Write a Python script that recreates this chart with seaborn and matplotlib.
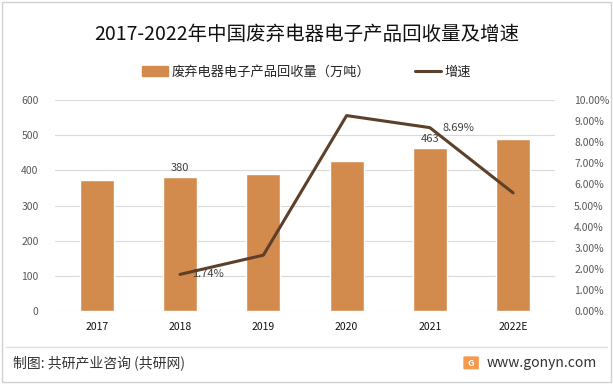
import pandas as pd
import matplotlib.pyplot as plt
import matplotlib.patches as mpatches
from matplotlib.lines import Line2D
import seaborn as sns

# data
years = ["2017", "2018", "2019", "2020", "2021", "2022E"]
volume = [373, 380, 390, 427, 463, 490]          # 万吨
growth_years = ["2018", "2019", "2020", "2021", "2022E"]
growth = [1.74, 2.65, 9.26, 8.69, 5.60]          # %

volume_labels = {"2018": "380", "2021": "463"}
growth_labels = {"2018": "1.74%", "2021": "8.69%"}

BAR = "#D38B4D"
LINE = "#5C4029"
GRID = "#D9D9D9"
TXT = "#595959"

sns.set_theme(style="white")
plt.rcParams["font.family"] = ["Noto Sans CJK SC", "DejaVu Sans"]

df = pd.DataFrame({"year": years, "volume": volume})

fig = plt.figure(figsize=(6.13, 3.86), dpi=100)
ax = fig.add_axes([0.09, 0.194, 0.815, 0.547])

sns.barplot(data=df, x="year", y="volume", color=BAR, width=0.41,
            saturation=1, ax=ax, zorder=2)
ax.set_xlim(-0.5, 5.5)
ax.set_ylim(0, 600)
ax.set_yticks(range(0, 601, 100))
ax.yaxis.grid(True, color=GRID, linewidth=0.8, zorder=0)
ax.set_xlabel("")
ax.set_ylabel("")
for s in ax.spines.values():
    s.set_visible(False)
ax.tick_params(axis="both", length=0, labelsize=7.5)
ax.tick_params(axis="y", labelcolor=TXT, pad=12)
ax.tick_params(axis="x", labelcolor="#111111", pad=8)

for yr, lab in volume_labels.items():
    i = years.index(yr)
    ax.text(i, volume[i] + 12, lab, ha="center", va="bottom",
            fontsize=8, color="#404040", zorder=1)

ax2 = ax.twinx()
gx = [years.index(y) for y in growth_years]
ax2.plot(gx, growth, color=LINE, linewidth=2.2, zorder=3)
ax2.set_ylim(0, 10)
ax2.set_yticks(range(0, 11))
ax2.set_yticklabels([f"{v:.2f}%" for v in range(0, 11)])
ax2.tick_params(axis="y", length=0, labelsize=7.5, labelcolor=TXT, pad=14)
for s in ax2.spines.values():
    s.set_visible(False)
ax2.grid(False)

for yr, lab in growth_labels.items():
    k = growth_years.index(yr)
    ax2.text(gx[k] + 0.15, growth[k], lab, ha="left", va="center",
             fontsize=8, color="#404040", zorder=4)

# title and legend
fig.text(0.5, 0.912, "2017-2022年中国废弃电器电子产品回收量及增速",
         ha="center", va="center", fontsize=14, color="#111111")
handles = [mpatches.Patch(color=BAR, label="废弃电器电子产品回收量（万吨）"),
           Line2D([0], [0], color=LINE, linewidth=2.2, label="增速")]
fig.legend(handles=handles, loc="center", bbox_to_anchor=(0.5, 0.813), ncol=2,
           frameon=False, columnspacing=3.4, handlelength=2.0,
           handletextpad=0.25, prop={"size": 9.5})

# footer
fig.add_artist(Line2D([0.01, 0.99], [0.101, 0.101], color="#E0E0E0", linewidth=1))
fig.text(0.021, 0.06, "制图: 共研产业咨询 (共研网)", ha="left", va="center",
         fontsize=10, color="#333333")
fig.add_artist(mpatches.FancyBboxPatch((0.758, 0.046), 0.021, 0.028,
                                       boxstyle="round,pad=0.001",
                                       color="#F39A4E", transform=fig.transFigure))
fig.text(0.7685, 0.059, "G", ha="center", va="center", fontsize=6.5,
         color="white", fontweight="bold")
fig.text(0.974, 0.06, "www.gonyn.com", ha="right", va="center",
         fontsize=10, color="#333333")

# outer frame
fig.add_artist(mpatches.Rectangle((0.003, 0.01), 0.994, 0.985, fill=False,
                                  edgecolor="#D0D0D0", linewidth=1,
                                  transform=fig.transFigure))

fig.savefig("out.png", dpi=100)
